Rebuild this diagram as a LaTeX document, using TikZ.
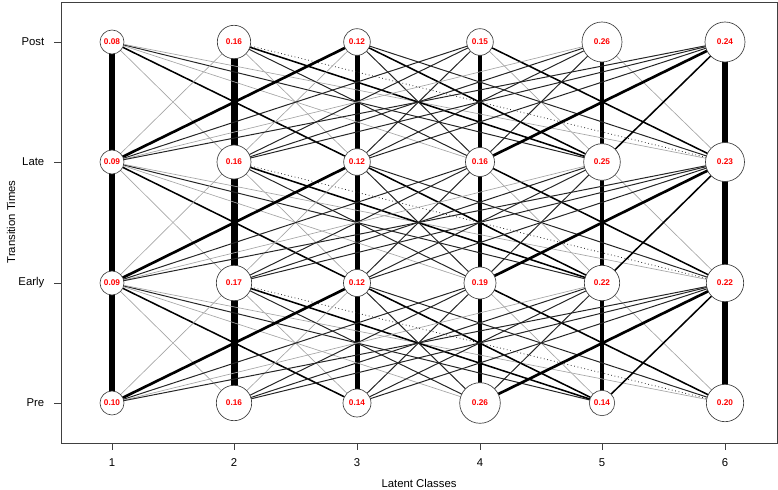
\documentclass[tikz,border=0pt]{standalone}
\usepackage{fontspec}
\setmainfont{Liberation Sans}
\usetikzlibrary{backgrounds}

\begin{document}
\begin{tikzpicture}[
            x=0.75pt, y=-0.75pt,
            cls/.style={circle,draw=black!75,fill=white,line width=0.5pt,inner sep=0pt,
              minimum size=#1*1.5pt,text=red,font=\fontsize{6.2}{6.5}\selectfont\bfseries},
            gr/.style={black!35,line width=0.5pt},
            bt/.style={black!85,line width=0.75pt},
            bm/.style={black,line width=1.15pt},
            bk/.style={black,line width=2pt},
            dt/.style={black!85,line width=0.6pt,dotted},
            lab/.style={font=\fontsize{8.5}{10}\selectfont},
            ]
            \useasboundingbox (0,0) rectangle (778,489);

            \node[cls=12] (post1) at (112,42) {0.08};
            \node[cls=16.7] (post2) at (234,42) {0.16};
            \node[cls=13.3] (post3) at (357,42) {0.12};
            \node[cls=13.3] (post4) at (480,42) {0.15};
            \node[cls=20] (post5) at (602,42) {0.26};
            \node[cls=20] (post6) at (725,42) {0.24};

            \node[cls=12] (late1) at (112,162) {0.09};
            \node[cls=17] (late2) at (234,162) {0.16};
            \node[cls=13.3] (late3) at (357,162) {0.12};
            \node[cls=14.5] (late4) at (480,162) {0.16};
            \node[cls=18.3] (late5) at (602,162) {0.25};
            \node[cls=19.5] (late6) at (725,162) {0.23};

            \node[cls=12] (early1) at (112,283) {0.09};
            \node[cls=17.7] (early2) at (234,283) {0.17};
            \node[cls=13.5] (early3) at (357,283) {0.12};
            \node[cls=16] (early4) at (480,283) {0.19};
            \node[cls=17.7] (early5) at (602,283) {0.22};
            \node[cls=18.7] (early6) at (725,283) {0.22};

            \node[cls=12] (pre1) at (112,403) {0.10};
            \node[cls=17.7] (pre2) at (234,403) {0.16};
            \node[cls=14] (pre3) at (357,403) {0.14};
            \node[cls=20.3] (pre4) at (480,403) {0.26};
            \node[cls=12.7] (pre5) at (602,403) {0.14};
            \node[cls=18.7] (pre6) at (725,403) {0.20};

            \begin{pgfonlayer}{background}
            \foreach \u/\v in {post/late,late/early,early/pre} {
                \foreach \i/\w in {1/5.7,2/7,3/5,4/4.3,5/4.3,6/6.3}
                    \draw[line width=\w*0.75pt] (\u\i.center) -- (\v\i.center);
                \foreach \i/\j/\s in {1/2/gr,1/3/bm,1/4/gr,1/5/bt,1/6/gr,
                                      2/1/gr,2/3/gr,2/4/bt,2/5/bm,2/6/dt,
                                      3/1/bk,3/2/gr,3/4/bt,3/5/bm,3/6/bt,
                                      4/1/bt,4/2/bt,4/3/bt,4/5/gr,4/6/bm,
                                      5/1/gr,5/2/bt,5/3/bt,5/4/bt,5/6/gr,
                                      6/1/bt,6/2/bt,6/3/bt,6/4/bk,6/5/bm}
                    \draw[\s] (\u\i.center) -- (\v\j.center);
            }
            \end{pgfonlayer}

            % frame and axes
            \draw[black!75,line width=0.6pt] (61,2) rectangle (777,443);
            \foreach \k/\x in {1/112,2/234,3/357,4/480,5/602,6/725} {
                \draw[black!75,line width=0.6pt] (\x,443) -- (\x,450);
                \node[lab] (tick\k) at (\x,463) {\k};
            }
            \foreach \t/\y in {Post/42,Late/162,Early/283,Pre/403} {
                \draw[black!75,line width=0.6pt] (61,\y) -- (54,\y);
                \node[lab,anchor=east] (tick\t) at (49,\y) {\t};
            }
            \node[lab] (xlabel) at (419,483) {Latent Classes};
            \node[lab,rotate=90] (ylabel) at (11,222) {Transition Times};
        \end{tikzpicture}
\end{document}
